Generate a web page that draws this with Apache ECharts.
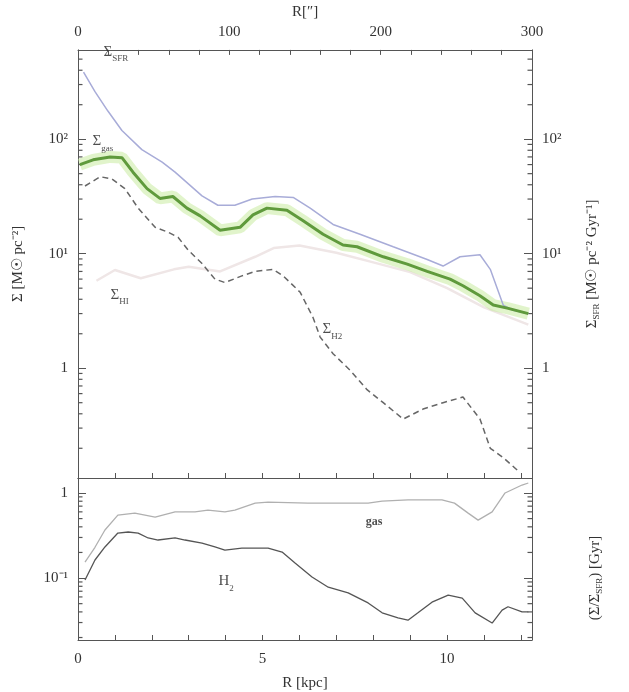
<!DOCTYPE html>
<html>
<head>
<meta charset="utf-8">
<script src="https://cdn.jsdelivr.net/npm/echarts@6/dist/echarts.min.js"></script>
<style>
html,body{margin:0;padding:0;background:#fff;}
#chart{width:629px;height:692px;}
</style>
</head>
<body>
<div id="chart"></div>
<script>
// ---------- data ----------
const R_sfr = [0.15,0.46,0.81,1.19,1.73,2.28,2.63,3.36,3.79,4.25,4.72,5.34,5.83,6.29,6.91,7.64,8.54,9.46,9.89,10.35,10.89,11.17,11.52,11.79,12.2];
const sigmaSFR = [385,260,176,119,81,63,51.5,32,26.5,26.5,30,31.6,31,25,18,14.8,11.5,8.9,7.8,9.4,9.8,7.3,3.56,3.2,3.0];

const R_gas = [0.05,0.41,0.87,1.19,1.49,1.87,2.22,2.57,2.95,3.31,3.85,4.39,4.74,5.12,5.66,6.1,6.64,7.18,7.56,8.27,8.92,9.46,10.08,10.43,10.89,11.25,11.63,12.2];
const sigmaGas = [60,66,70,69,51.5,37,30.4,31.6,25,21.4,16,17,21.8,25,24,19.4,14.8,11.9,11.5,9.4,8.1,7.0,6.0,5.25,4.3,3.56,3.35,3.0];

const R_h2 = [0.19,0.6,0.92,1.27,1.63,2.09,2.44,2.71,2.98,3.36,3.71,3.98,4.44,4.8,5.28,5.56,6.02,6.37,6.56,6.91,7.37,7.83,8.27,8.81,9.35,9.89,10.43,10.89,11.17,11.52,11.9];
const sigmaH2 = [39,47,45,37,25,17,15.4,13.9,10.8,8.2,6.0,5.6,6.4,7.0,7.3,6.4,4.6,2.76,1.87,1.34,0.96,0.65,0.50,0.36,0.44,0.50,0.56,0.36,0.20,0.166,0.129];

const R_hi = [0.5,1.0,1.7,2.6,3.0,3.85,4.8,5.3,6.0,7.0,8.0,9.0,10.0,11.0,12.2];
const sigmaHI = [5.8,7.2,6.1,7.3,7.7,7.0,9.4,11.2,11.8,10.2,8.4,6.9,5.0,3.4,2.4];

const R_tgas = [0.19,0.46,0.73,1.08,1.54,2.09,2.63,3.17,3.52,3.98,4.25,4.8,5.15,6.23,7.86,8.24,8.94,9.86,10.2,10.57,10.84,11.22,11.57,12.03,12.2];
const tauGas = [0.154,0.23,0.367,0.55,0.58,0.52,0.60,0.60,0.63,0.60,0.63,0.76,0.78,0.76,0.76,0.80,0.83,0.83,0.76,0.58,0.48,0.60,1.0,1.24,1.31];

const R_th2 = [0.19,0.46,0.73,1.08,1.36,1.63,1.9,2.17,2.63,2.9,3.36,3.71,3.98,4.44,5.15,5.53,5.88,6.34,6.78,7.32,7.86,8.24,8.67,8.94,9.21,9.59,10.03,10.41,10.76,11.22,11.49,11.65,12.03,12.2];
const tauH2 = [0.095,0.163,0.232,0.338,0.348,0.338,0.296,0.28,0.296,0.28,0.258,0.232,0.213,0.225,0.225,0.202,0.15,0.103,0.078,0.067,0.051,0.039,0.034,0.032,0.039,0.052,0.063,0.058,0.039,0.0296,0.042,0.046,0.040,0.040];

// axis ranges and ticks
const R_MAX = 12.3, ARCSEC_MAX = 300;
const topYMin = 0.11, topYMax = 602;
const botYMin = 0.0187, botYMax = 1.5;
const minorTop = [0.2,0.3,0.4,0.5,0.6,0.7,0.8,0.9,2,3,4,5,6,7,8,9,20,30,40,50,60,70,80,90,200,300,400,500];
const minorBot = [0.02,0.03,0.04,0.05,0.06,0.07,0.08,0.09,0.2,0.3,0.4,0.5,0.6,0.7,0.8,0.9];

// annotation anchor points (data coords)
const annTop = [
  {t:'{m|Σ}{s|SFR}', R:0.68, v:555},
  {t:'{m|Σ}{s|gas}', R:0.38, v:92},
  {t:'{m|Σ}{s|HI}', R:0.87, v:4.2},
  {t:'{m|Σ}{s|H2}', R:6.61, v:2.1}
];
const annBot = [
  {t:'{g|gas}', R:7.78, v:0.456},
  {t:'{m|H}{s|2}', R:3.79, v:0.087}
];

// ---------- chart ----------
const FONT = 'Liberation Serif';
const AX = '#555';
const pairs = (xs, ys) => xs.map((x,i)=>[x, ys[i]]);
const supMap = {'-':'⁻','0':'⁰','1':'¹','2':'²','3':'³','4':'⁴','5':'⁵','6':'⁶','7':'⁷','8':'⁸','9':'⁹'};
function logLabel(v){
  const e = Math.log10(v), r = Math.round(e);
  if (Math.abs(e-r) > 1e-6) return '';
  if (r === 0) return '1';
  return '10' + String(r).split('').map(c=>supMap[c]).join('');
}
const rich = {
  m:{fontFamily:FONT,fontSize:15,color:'#222',padding:[0,0,4,0],verticalAlign:'bottom'},
  s:{fontFamily:FONT,fontSize:9,color:'#222',verticalAlign:'bottom'},
  g:{fontFamily:FONT,fontSize:12,color:'#222',fontWeight:'bold'}
};
const nameRich = {
  n:{fontFamily:FONT,fontSize:15,color:'#333'},
  s:{fontFamily:FONT,fontSize:9,color:'#333',padding:[8,0,0,0]}
};

function xAxisBase(grid, pos, extra){
  return Object.assign({
    type:'value', gridIndex:grid, position:pos, min:0, max:R_MAX, interval:1,
    axisLine:{show:true,onZero:false,lineStyle:{color:AX,width:1}},
    axisTick:{show:true,inside:true,length:5,lineStyle:{color:AX}},
    axisLabel:{show:false}, splitLine:{show:false}
  }, extra||{});
}
function yAxisBase(grid, pos, mn, mx, labels, extra){
  return Object.assign({
    type:'log', logBase:10, gridIndex:grid, position:pos, min:mn, max:mx,
    axisLine:{show:true,onZero:false,lineStyle:{color:AX,width:1}},
    axisTick:{show:true,inside:true,length:8,lineStyle:{color:AX}},
    axisLabel:{show:labels,formatter:logLabel,fontFamily:FONT,fontSize:15,color:'#333',margin:10},
    splitLine:{show:false}
  }, extra||{});
}

// minor log ticks, placed through the axes' own scales
function tickSeries(xi, yi, vals, x, len){
  return {type:'custom', xAxisIndex:xi, yAxisIndex:yi, clip:false,
    data: vals.map(v=>[x, v]), encode:{x:0, y:1}, animation:false,
    renderItem:(params, api)=>{
      const p = api.coord([api.value(0), api.value(1)]);
      return {type:'line', shape:{x1:p[0], y1:p[1], x2:p[0]+len, y2:p[1]},
        style:{stroke:AX, lineWidth:1.2}};
    }};
}
function annSeries(xi, yi, arr){
  return {type:'scatter', xAxisIndex:xi, yAxisIndex:yi, silent:true, symbolSize:1,
    itemStyle:{color:'rgba(0,0,0,0)'}, z:5,
    data: arr.map(a=>({value:[a.R,a.v], label:{show:true, formatter:a.t}})),
    label:{show:true, position:'right', distance:0, color:'#222', rich:rich}, animation:false};
}

const option = {
  animation:false,
  grid:[
    {left:78, top:37, width:454, height:441},
    {left:78, top:478, width:454, height:162}
  ],
  xAxis:[
    xAxisBase(0,'bottom'),
    {type:'value', gridIndex:0, position:'top', min:0, max:ARCSEC_MAX, interval:20,
     axisLine:{show:true,onZero:false,lineStyle:{color:AX}},
     axisTick:{show:true,inside:true,length:5,lineStyle:{color:AX}},
     axisLabel:{show:true,margin:10,fontFamily:FONT,fontSize:15,color:'#333',
       formatter:v=> (Math.abs(v%100)<1e-6 ? String(v) : '')},
     splitLine:{show:false},
     name:'R[″]', nameLocation:'middle', nameGap:20,
     nameTextStyle:{fontFamily:FONT,fontSize:15,color:'#333'}},
    xAxisBase(1,'bottom',{
      axisLabel:{show:true,margin:12,fontFamily:FONT,fontSize:15,color:'#333',
        formatter:v=> (Math.abs(v%5)<1e-6 ? String(v) : '')},
      name:'R [kpc]', nameLocation:'middle', nameGap:36,
      nameTextStyle:{fontFamily:FONT,fontSize:15,color:'#333'}}),
    xAxisBase(1,'top',{axisTick:{show:false}})
  ],
  yAxis:[
    yAxisBase(0,'left',topYMin,topYMax,true,{
      name:'{n|Σ [M☉ pc⁻²]}', nameLocation:'middle', nameGap:52, nameRotate:90,
      nameTextStyle:{rich:nameRich}}),
    yAxisBase(0,'right',topYMin,topYMax,true,{
      name:'{n|Σ}{s|SFR}{n| [M☉ pc⁻² Gyr⁻¹]}', nameLocation:'middle', nameGap:52, nameRotate:90,
      nameTextStyle:{rich:nameRich}}),
    yAxisBase(1,'left',botYMin,botYMax,true),
    yAxisBase(1,'right',botYMin,botYMax,false,{
      name:'{n|(Σ/Σ}{s|SFR}{n|) [Gyr]}', nameLocation:'middle', nameGap:55, nameRotate:90,
      nameTextStyle:{rich:nameRich, padding:[0,38,0,0]}})
  ],
  series:[
    {type:'line', name:'HI', xAxisIndex:0, yAxisIndex:0, data:pairs(R_hi,sigmaHI), showSymbol:false,
     lineStyle:{color:'#efe6e6',width:2.5}, z:2},
    tickSeries(0,0,minorTop,0,4.5),
    tickSeries(0,1,minorTop,R_MAX,-4.5),
    tickSeries(2,2,minorBot,0,4.5),
    tickSeries(2,3,minorBot,R_MAX,-4.5),
    {type:'line', name:'gas band', xAxisIndex:0, yAxisIndex:0, data:pairs(R_gas,sigmaGas), showSymbol:false,
     lineStyle:{color:'rgba(200,235,160,0.55)',width:12}, z:2},
    {type:'line', name:'SFR', xAxisIndex:0, yAxisIndex:1, data:pairs(R_sfr,sigmaSFR), showSymbol:false,
     lineStyle:{color:'#a8acd8',width:1.5}, z:3},
    {type:'line', name:'gas', xAxisIndex:0, yAxisIndex:0, data:pairs(R_gas,sigmaGas), showSymbol:false,
     lineStyle:{color:'#5f9a3c',width:3}, z:4},
    {type:'line', name:'H2', xAxisIndex:0, yAxisIndex:0, data:pairs(R_h2,sigmaH2), showSymbol:false,
     lineStyle:{color:'#666',width:1.5,type:[6,4]}, z:4},
    {type:'line', name:'tgas', xAxisIndex:2, yAxisIndex:2, data:pairs(R_tgas,tauGas), showSymbol:false,
     lineStyle:{color:'#b0b0b0',width:1.3}, z:3},
    {type:'line', name:'tH2', xAxisIndex:2, yAxisIndex:2, data:pairs(R_th2,tauH2), showSymbol:false,
     lineStyle:{color:'#555',width:1.3}, z:3},
    annSeries(0,0,annTop),
    annSeries(2,2,annBot)
  ]
};
const chart = echarts.init(document.getElementById('chart'));
chart.setOption(option);
</script>
</body>
</html>
